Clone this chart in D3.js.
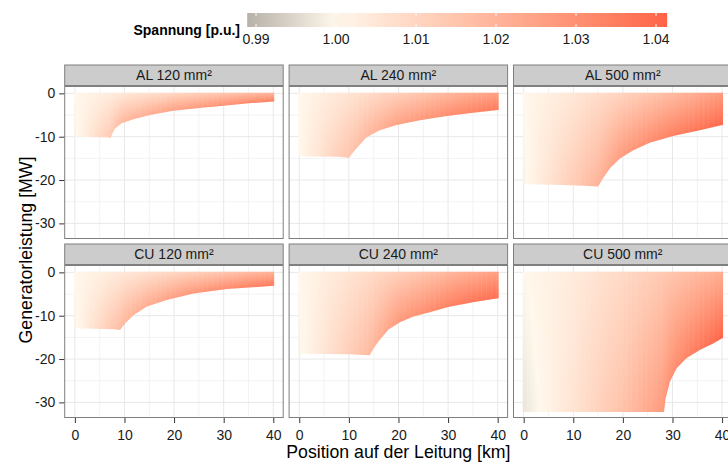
<!DOCTYPE html>
<html>
<head>
<meta charset="utf-8">
<script src="https://cdn.jsdelivr.net/npm/d3@7"></script>
<style>
body { margin: 0; background: #fff; }
svg { font-family: "Liberation Sans", Arial, sans-serif; }
</style>
</head>
<body>
<div id="chart"></div>
<script>
const width = 728, height = 462;

const panels = ["AL 120 mm²", "AL 240 mm²", "AL 500 mm²", "CU 120 mm²", "CU 240 mm²", "CU 500 mm²"];
const xTicks = [0, 10, 20, 30, 40];
const yTicks = [0, -10, -20, -30];
const xMinor = [5, 15, 25, 35];
const yMinor = [-5, -15, -25];
const legendTicks = [0.99, 1.00, 1.01, 1.02, 1.03, 1.04];
const spannungRange = [0.9889, 1.0414];

// lower edge of the feasible area, [km, MW], one list per panel
const limits = [
  [[0,-10.0],[6.6,-10.1],[7.2,-10.3],[7.7,-8.9],[8.1,-8.1],[9.4,-6.9],[11.8,-6.0],[15.1,-5.0],[19.8,-4.0],[25,-3.4],[29.9,-2.85],[35,-2.3],[40,-1.9]],
  [[0,-14.5],[8,-14.6],[10,-14.85],[11.5,-12.7],[13.5,-10.2],[16.2,-8.5],[19.6,-7.3],[24.3,-6.2],[29.7,-5.2],[35,-4.5],[40,-3.85]],
  [[0,-20.9],[10,-21.2],[15,-21.5],[16,-19.6],[17.4,-17.3],[19.4,-15.0],[22.1,-13.1],[25.4,-11.4],[30.1,-9.85],[35.5,-8.5],[40,-7.3]],
  [[0,-12.9],[8,-13.1],[9.1,-13.3],[10.1,-11.8],[11.8,-9.9],[14.5,-7.9],[18.5,-6.4],[23.9,-4.85],[30.6,-3.85],[40,-3.1]],
  [[0,-18.8],[10,-18.9],[14.2,-19.1],[15,-17.5],[16.2,-15.6],[18,-13.2],[20.3,-11.5],[23,-10.2],[26.3,-9.2],[30,-8.0],[35,-6.9],[40,-6.0]],
  [[0,-32.2],[28.3,-32.2],[28.6,-29.1],[29.5,-25.2],[30.8,-22.2],[32.8,-19.8],[35.5,-17.9],[38.2,-16.4],[40,-15.2]]
];

// voltage read along the top edge (0 MW) and along the lower edge, at these km
const voltX = [0, 10, 20, 30, 40];
const voltageTop = [
  [1.000, 1.005, 1.010, 1.015, 1.020],
  [1.000, 1.006, 1.012, 1.019, 1.026],
  [1.000, 1.005, 1.011, 1.018, 1.027],
  [1.000, 1.005, 1.010, 1.015, 1.021],
  [1.000, 1.006, 1.012, 1.019, 1.026],
  [1.000, 1.004, 1.009, 1.015, 1.022]
];
const voltageLimit = [
  [0.999, 1.019, 1.025, 1.030, 1.035],
  [1.000, 1.015, 1.025, 1.031, 1.036],
  [0.999, 1.013, 1.027, 1.034, 1.040],
  [0.999, 1.019, 1.026, 1.031, 1.036],
  [0.999, 1.012, 1.027, 1.034, 1.039],
  [0.997, 1.006, 1.016, 1.030, 1.041]
];

const marginLeft = 64.2, marginTop = 64.5;
const panelW = 219.5, panelH = 153, stripH = 21.5;
const colStep = 224.4, rowStep = 179;

const svg = d3.select("#chart").append("svg")
  .attr("width", width)
  .attr("height", height);
const defs = svg.append("defs");

const x = d3.scaleLinear().domain([-2.15, 42.1]).range([0, panelW]);
const y = d3.scaleLinear().domain([1.7, -33.6]).range([0, panelH]);

const color = d3.scaleLinear()
  .domain([spannungRange[0], 1, spannungRange[1]])
  .range(["#b6b1a9", "#fff8ec", "#ff6347"])
  .interpolate(d3.interpolateLab)
  .clamp(true);

panels.forEach(function(name, i) {
  const col = i % 3, row = Math.floor(i / 3);
  const g = svg.append("g")
    .attr("transform", "translate(" + (marginLeft + col * colStep) + "," + (marginTop + row * rowStep) + ")");

  // strip
  g.append("rect")
    .attr("x", 0.5).attr("y", 0.5)
    .attr("width", panelW - 1).attr("height", stripH - 1)
    .attr("fill", "#cccccc")
    .attr("stroke", "#7f7f7f");
  g.append("text")
    .attr("x", panelW / 2).attr("y", stripH / 2)
    .attr("dy", "0.35em")
    .attr("text-anchor", "middle")
    .attr("font-size", "14px")
    .attr("fill", "#1a1a1a")
    .text(name);

  const p = g.append("g").attr("transform", "translate(0," + stripH + ")");

  // grid
  p.selectAll(".minx").data(xMinor).join("line")
    .attr("x1", d => x(d)).attr("x2", d => x(d))
    .attr("y1", 0).attr("y2", panelH)
    .attr("stroke", "#f3f3f3");
  p.selectAll(".miny").data(yMinor).join("line")
    .attr("y1", d => y(d)).attr("y2", d => y(d))
    .attr("x1", 0).attr("x2", panelW)
    .attr("stroke", "#f3f3f3");
  p.selectAll(".majx").data(xTicks).join("line")
    .attr("x1", d => x(d)).attr("x2", d => x(d))
    .attr("y1", 0).attr("y2", panelH)
    .attr("stroke", "#e8e8e8");
  p.selectAll(".majy").data(yTicks).join("line")
    .attr("y1", d => y(d)).attr("y2", d => y(d))
    .attr("x1", 0).attr("x2", panelW)
    .attr("stroke", "#e8e8e8");

  // feasible area as clip
  const lim = limits[i];
  const last = lim[lim.length - 1];
  const poly = [[-0.2, 0.15], [40.2, 0.15], [40.2, last[1]]]
    .concat(lim.slice().reverse())
    .concat([[-0.2, lim[0][1]]]);
  defs.append("clipPath").attr("id", "clip" + i)
    .append("polygon")
    .attr("points", poly.map(d => x(d[0]) + "," + y(d[1])).join(" "));

  const lowAt = d3.scaleLinear().domain(lim.map(d => d[0])).range(lim.map(d => d[1])).clamp(true);
  const topAt = d3.scaleLinear().domain(voltX).range(voltageTop[i]).clamp(true);
  const limAt = d3.scaleLinear().domain(voltX).range(voltageLimit[i]).clamp(true);

  const cols = d3.range(0, 40.01, 0.5);
  const area = p.append("g").attr("clip-path", "url(#clip" + i + ")");
  cols.forEach(function(xc, k) {
    const vt = topAt(xc), vb = limAt(xc), yl = lowAt(xc);
    const id = "grad" + i + "_" + k;
    const grad = defs.append("linearGradient").attr("id", id)
      .attr("gradientUnits", "userSpaceOnUse")
      .attr("x1", 0).attr("x2", 0)
      .attr("y1", y(0)).attr("y2", y(yl));
    [0, 0.25, 0.5, 0.75, 1].forEach(t => {
      grad.append("stop").attr("offset", t).attr("stop-color", color(vt + (vb - vt) * t));
    });
    area.append("rect")
      .attr("x", x(xc - 0.3))
      .attr("y", 0)
      .attr("width", x(0.6) - x(0))
      .attr("height", panelH)
      .attr("fill", "url(#" + id + ")");
  });

  // border
  p.append("rect")
    .attr("x", 0.5).attr("y", 0.5)
    .attr("width", panelW - 1).attr("height", panelH - 1)
    .attr("fill", "none")
    .attr("stroke", "#7f7f7f");

  if (col === 0) {
    p.append("g")
      .call(d3.axisLeft(y).tickValues(yTicks).tickSize(5).tickPadding(4).tickFormat(d => String(d)))
      .call(a => a.select(".domain").remove())
      .call(a => a.selectAll("line").attr("stroke", "#333"))
      .call(a => a.selectAll("text").attr("fill", "#1a1a1a"))
      .attr("font-family", null)
      .attr("font-size", "14px");
  }
  if (row === 1) {
    p.append("g")
      .attr("transform", "translate(0," + panelH + ")")
      .call(d3.axisBottom(x).tickValues(xTicks).tickSize(5).tickPadding(7).tickFormat(d => String(d)))
      .call(a => a.select(".domain").remove())
      .call(a => a.selectAll("line").attr("stroke", "#333"))
      .call(a => a.selectAll("text").attr("fill", "#1a1a1a"))
      .attr("font-family", null)
      .attr("font-size", "14px");
  }
});

// axis titles
svg.append("text")
  .attr("x", marginLeft + (2 * colStep + panelW) / 2)
  .attr("y", 458)
  .attr("text-anchor", "middle")
  .attr("font-size", "17.7px")
  .attr("fill", "#000")
  .text("Position auf der Leitung [km]");

svg.append("text")
  .attr("transform", "translate(32,250) rotate(-90)")
  .attr("text-anchor", "middle")
  .attr("font-size", "17.7px")
  .attr("fill", "#000")
  .text("Generatorleistung [MW]");

// legend
const lx = d3.scaleLinear().domain([0.99, 1.04]).range([256, 656]);
const barY = 13, barH = 14;
const lg = defs.append("linearGradient").attr("id", "legendGrad");
d3.range(0, 1.0001, 0.05).forEach(t => {
  const v = spannungRange[0] + t * (spannungRange[1] - spannungRange[0]);
  lg.append("stop").attr("offset", t).attr("stop-color", color(v));
});
svg.append("rect")
  .attr("x", lx(spannungRange[0]))
  .attr("y", barY)
  .attr("width", lx(spannungRange[1]) - lx(spannungRange[0]))
  .attr("height", barH)
  .attr("fill", "url(#legendGrad)");
svg.selectAll(".ltick-top").data(legendTicks).join("line")
  .attr("x1", d => lx(d)).attr("x2", d => lx(d))
  .attr("y1", barY).attr("y2", barY + 2.8)
  .attr("stroke", "#fff");
svg.selectAll(".ltick-bot").data(legendTicks).join("line")
  .attr("x1", d => lx(d)).attr("x2", d => lx(d))
  .attr("y1", barY + barH - 2.8).attr("y2", barY + barH)
  .attr("stroke", "#fff");
svg.selectAll(".llab").data(legendTicks).join("text")
  .attr("x", d => lx(d))
  .attr("y", 44)
  .attr("text-anchor", "middle")
  .attr("font-size", "14px")
  .attr("fill", "#1a1a1a")
  .text(d => d3.format(".2f")(d));
svg.append("text")
  .attr("x", 240)
  .attr("y", 35)
  .attr("text-anchor", "end")
  .attr("font-size", "14px")
  .attr("font-weight", "bold")
  .attr("fill", "#000")
  .text("Spannung [p.u.]");
</script>
</body>
</html>
